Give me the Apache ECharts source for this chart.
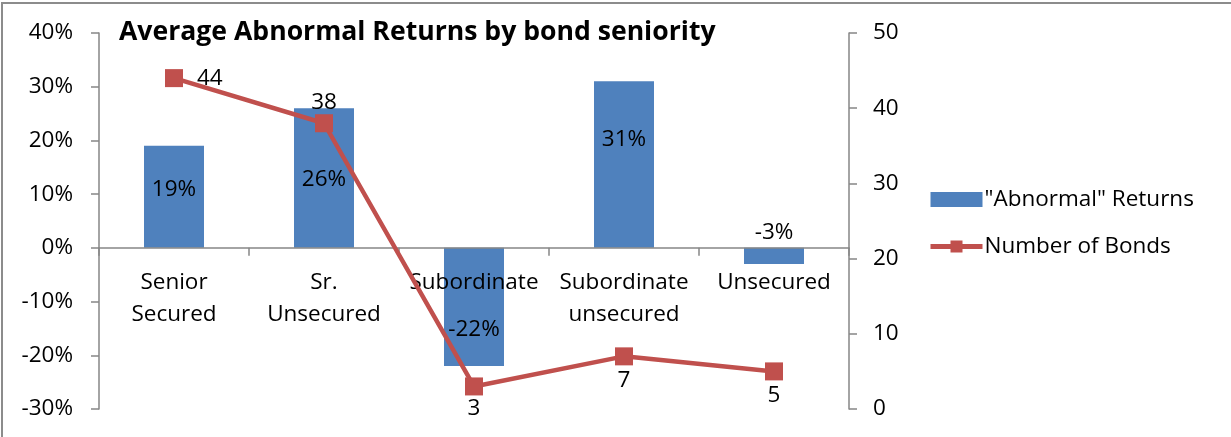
<!DOCTYPE html>
<html>
<head>
<meta charset="utf-8">
<script src="https://cdn.jsdelivr.net/npm/echarts@6/dist/echarts.min.js"></script>
<style>
html,body{margin:0;padding:0;background:#fff;}
#c{width:1231px;height:437px;}
</style>
</head>
<body>
<div id="c"></div>
<script>
const categories = ['Senior\nSecured', 'Sr.\nUnsecured', 'Subordinate', 'Subordinate\nunsecured', 'Unsecured'];
const abnormalReturns = [19, 26, -22, 31, -3];
const numberOfBonds = [44, 38, 3, 7, 5];
const leftTicks = { min: -30, max: 40, interval: 10 };
const rightTicks = { min: 0, max: 50, interval: 10 };

// label placement styles (pixel offsets) per bar / point
const barLabelOffsets = [[0, -7], [0, 2], [0, 23], [0, -25], [0, -23]];
const lineLabelPos = ['right', 'top', 'bottom', 'bottom', 'bottom'];
const lineLabelDist = [14, 0, 2, 4, 4];

const FONT = 'Open Sans';
const FS = 22.5;
const axisColor = '#868686';

const chart = echarts.init(document.getElementById('c'));
chart.setOption({
  animation: false,
  backgroundColor: '#fff',
  textStyle: { fontFamily: FONT },
  title: {
    text: 'Average Abnormal Returns by bond seniority',
    left: 114, top: 14,
    textStyle: { fontFamily: FONT, fontWeight: 'bold', fontSize: 26.6, color: '#000' }
  },
  graphic: [{
    type: 'rect', shape: { x: 2, y: 3, width: 1260, height: 460 },
    style: { fill: 'none', stroke: '#8c8c8c', lineWidth: 2 }, silent: true, z: -1
  }],
  legend: {
    orient: 'vertical', left: 923, top: 183, itemGap: 24,
    itemWidth: 52, itemHeight: 15,
    textStyle: { fontFamily: FONT, fontSize: FS, color: '#000', padding: [0, 0, 0, -3] },
    data: [
      { name: '"Abnormal" Returns', icon: 'rect' },
      { name: 'Number of Bonds', lineStyle: { width: 5 } }
    ]
  },
  grid: { left: 99, right: 382, top: 33, bottom: 28, containLabel: false, outerBoundsMode: 'none' },
  xAxis: {
    type: 'category',
    data: categories,
    z: 3,
    axisLine: { onZero: true, lineStyle: { color: axisColor, width: 1.5 } },
    axisTick: { show: true, alignWithLabel: false, length: 8, lineStyle: { color: axisColor, width: 1.5 } },
    axisLabel: { fontFamily: FONT, fontSize: FS, color: '#000', lineHeight: 32, margin: -142, interval: 0 }
  },
  yAxis: [{
    type: 'value',
    min: leftTicks.min, max: leftTicks.max, interval: leftTicks.interval,
    splitLine: { show: false },
    axisLine: { show: true, lineStyle: { color: axisColor, width: 1.5 } },
    axisTick: { show: true, length: 8, lineStyle: { color: axisColor, width: 1.5 } },
    axisLabel: { fontFamily: FONT, fontSize: FS, color: '#000', margin: 26, formatter: v => v + '%' }
  }, {
    type: 'value',
    min: rightTicks.min, max: rightTicks.max, interval: rightTicks.interval,
    splitLine: { show: false },
    axisLine: { show: true, lineStyle: { color: axisColor, width: 1.5 } },
    axisTick: { show: true, length: 8, lineStyle: { color: axisColor, width: 1.5 } },
    axisLabel: { fontFamily: FONT, fontSize: FS, color: '#000', margin: 24 }
  }],
  series: [{
    name: '"Abnormal" Returns',
    type: 'bar',
    yAxisIndex: 0,
    barWidth: '40%',
    itemStyle: { color: '#4F81BD' },
    data: abnormalReturns.map((v, i) => ({
      value: v,
      label: { show: true, position: 'inside', offset: barLabelOffsets[i] }
    })),
    label: { fontFamily: FONT, fontSize: FS, color: '#000', formatter: p => p.value + '%' },
    z: 2
  }, {
    name: 'Number of Bonds',
    type: 'line',
    yAxisIndex: 1,
    symbol: 'rect',
    symbolSize: 18,
    lineStyle: { color: '#C0504D', width: 4.5 },
    itemStyle: { color: '#C0504D' },
    data: numberOfBonds.map((v, i) => ({
      value: v,
      label: { show: true, position: lineLabelPos[i], distance: lineLabelDist[i] }
    })),
    label: { fontFamily: FONT, fontSize: FS, color: '#000' },
    z: 4
  }]
});
</script>
</body>
</html>
